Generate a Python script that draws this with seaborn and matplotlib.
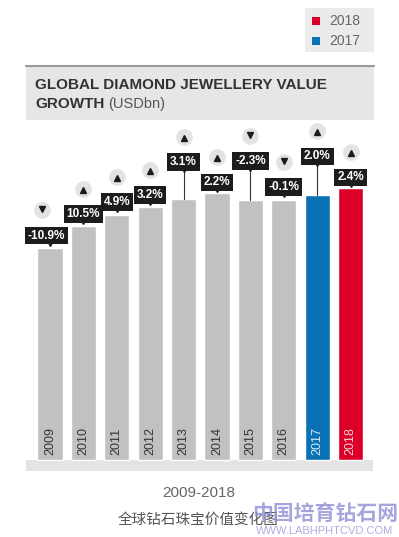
import matplotlib
matplotlib.use('Agg')
import matplotlib.pyplot as plt
import matplotlib.patches as mpatches
import pandas as pd
import seaborn as sns

years = ['2009', '2010', '2011', '2012', '2013', '2014', '2015', '2016', '2017', '2018']
value_bn = [63.9, 70.6, 74.0, 76.3, 78.7, 80.5, 78.4, 78.4, 79.9, 82.0]
growth = ['-10.9%', '10.5%', '4.9%', '3.2%', '3.1%', '2.2%', '-2.3%', '-0.1%', '2.0%', '2.4%']
direction = ['down', 'up', 'up', 'up', 'up', 'up', 'down', 'down', 'up', 'up']
legend_years = ['2018', '2017']

GREY, BLUE, RED = '#c1c1c1', '#0a72b4', '#dc0028'
bar_colors = [GREY] * 8 + [BLUE, RED]
year_text_colors = ['#333333'] * 8 + ['#d6e9f7', '#f6d3d8']
# label lift above the bar top in px (stemmed labels sit higher)
lift = [5, 4, 5, 4, 29, 3, 31, 5, 31, 3]
label_dx = [-0.1, 0, 0, 0, 0, 0, 0, 0, 0, 0]

W, H = 399, 537
fig = plt.figure(figsize=(W / 100, H / 100), dpi=100)
sns.set_style('white')
plt.rcParams['font.family'] = ['Liberation Sans', 'DejaVu Sans']


def fx(px):
    return px / W


def fy(py):
    return 1 - py / H


# chart axes: x from px 26..373, y from px 120..471, bars start at px 460
px_per_bn = 272 / 82.0
ax = fig.add_axes([fx(26), fy(471), fx(373) - fx(26), fy(120) - fy(471)])
df = pd.DataFrame({'year': years, 'value': value_bn})
sns.barplot(data=df, x='year', y='value', hue='year', palette=bar_colors,
            legend=False, width=0.75, saturation=1, ax=ax)
ax.set_xlim(-24 / 33.4, 9 + 22.4 / 33.4)
ax.set_ylim(-11 / px_per_bn, 340 / px_per_bn)
ax.axis('off')

# base strip
ax.add_patch(mpatches.Rectangle((-24 / 33.4, -11 / px_per_bn), 347 / 33.4, 11 / px_per_bn,
                                color='#e4e4e4', lw=0, zorder=0, clip_on=False))


def py2d(p):
    return p / px_per_bn


for i, (yr, v) in enumerate(zip(years, value_bn)):
    # year label inside the bar
    ax.text(i, py2d(5), yr, rotation=90, ha='center', va='bottom',
            fontsize=9, color=year_text_colors[i])
    top = v
    box_bottom = top + py2d(lift[i])
    cx = i + label_dx[i]
    if lift[i] > 10:
        ax.plot([i, i], [top, box_bottom], color='#333333', lw=0.8, zorder=3)
    ax.plot(i, box_bottom + py2d(0.5), marker='v', ms=5, color='#1c1c1c', zorder=4,
            clip_on=False)
    ax.text(cx, box_bottom + py2d(7.5), growth[i], ha='center', va='center',
            fontsize=8.5, fontweight='bold', color='white', zorder=5,
            bbox=dict(boxstyle='square,pad=0.25', fc='#1c1c1c', ec='none'))
    cy = box_bottom + py2d(15 + 18)
    ccx = cx - (0.15 if i == 0 else 0)
    ax.plot(ccx, cy, marker='o', ms=12, color='#e3e3e3',
            mec='none', zorder=4, clip_on=False)
    ax.plot(ccx, cy + py2d(-1 if direction[i] == 'up' else 1),
            marker='^' if direction[i] == 'up' else 'v', ms=5,
            color='#1c1c1c', zorder=5, clip_on=False)

# title band
fig.patches.append(mpatches.Rectangle((fx(26), fy(120)), fx(374) - fx(26), fy(65) - fy(120),
                                      transform=fig.transFigure, color='#e6e6e6', lw=0))
fig.lines.append(plt.Line2D([fx(26), fx(374)], [fy(65.5), fy(65.5)],
                            transform=fig.transFigure, color='#9a9a9a', lw=1.5))
fig.text(fx(35), fy(85), 'GLOBAL DIAMOND JEWELLERY VALUE', fontsize=11,
         fontweight='bold', color='#333333', va='center', ha='left')
t = fig.text(fx(35), fy(104), 'GROWTH', fontsize=11, fontweight='bold',
             color='#333333', va='center', ha='left')
renderer = fig.canvas.get_renderer()
x_end = t.get_window_extent(renderer).x1
fig.text(fx(x_end + 4), fy(104), '(USDbn)', fontsize=10.5, color='#555555',
         va='center', ha='left')

# legend box
fig.patches.append(mpatches.Rectangle((fx(305), fy(52)), fx(374) - fx(305), fy(8) - fy(52),
                                      transform=fig.transFigure, color='#ebebeb', lw=0))
for k, (ly, col) in enumerate(zip(legend_years, [RED, BLUE])):
    yc = 21 + 20 * k
    fig.patches.append(mpatches.Rectangle((fx(312), fy(yc + 4)), fx(8), fy(0) - fy(8),
                                          transform=fig.transFigure, color=col, lw=0))
    fig.text(fx(329), fy(yc), ly, fontsize=10, color='#666666', va='center', ha='left')

# captions
fig.text(fx(199), fy(493), '2009-2018', fontsize=11, color='#666666', ha='center', va='center')
fig.text(fx(198), fy(520), '全球钻石珠宝价值变化图', fontsize=10.5, color='#555555',
         ha='center', va='center', family=['Noto Sans CJK SC', 'DejaVu Sans'])

# watermark
fig.text(fx(325), fy(514), '中国培育钻石网', fontsize=15, color='#8f8fd6', alpha=0.8,
         ha='center', va='center', fontweight='bold',
         family=['Noto Sans CJK SC', 'DejaVu Sans'])
fig.text(fx(325), fy(531), 'WWW.LABHPHTCVD.COM', fontsize=8, color='#9a9ad6', alpha=0.8,
         ha='center', va='center')

fig.savefig('out.png', dpi=100)
